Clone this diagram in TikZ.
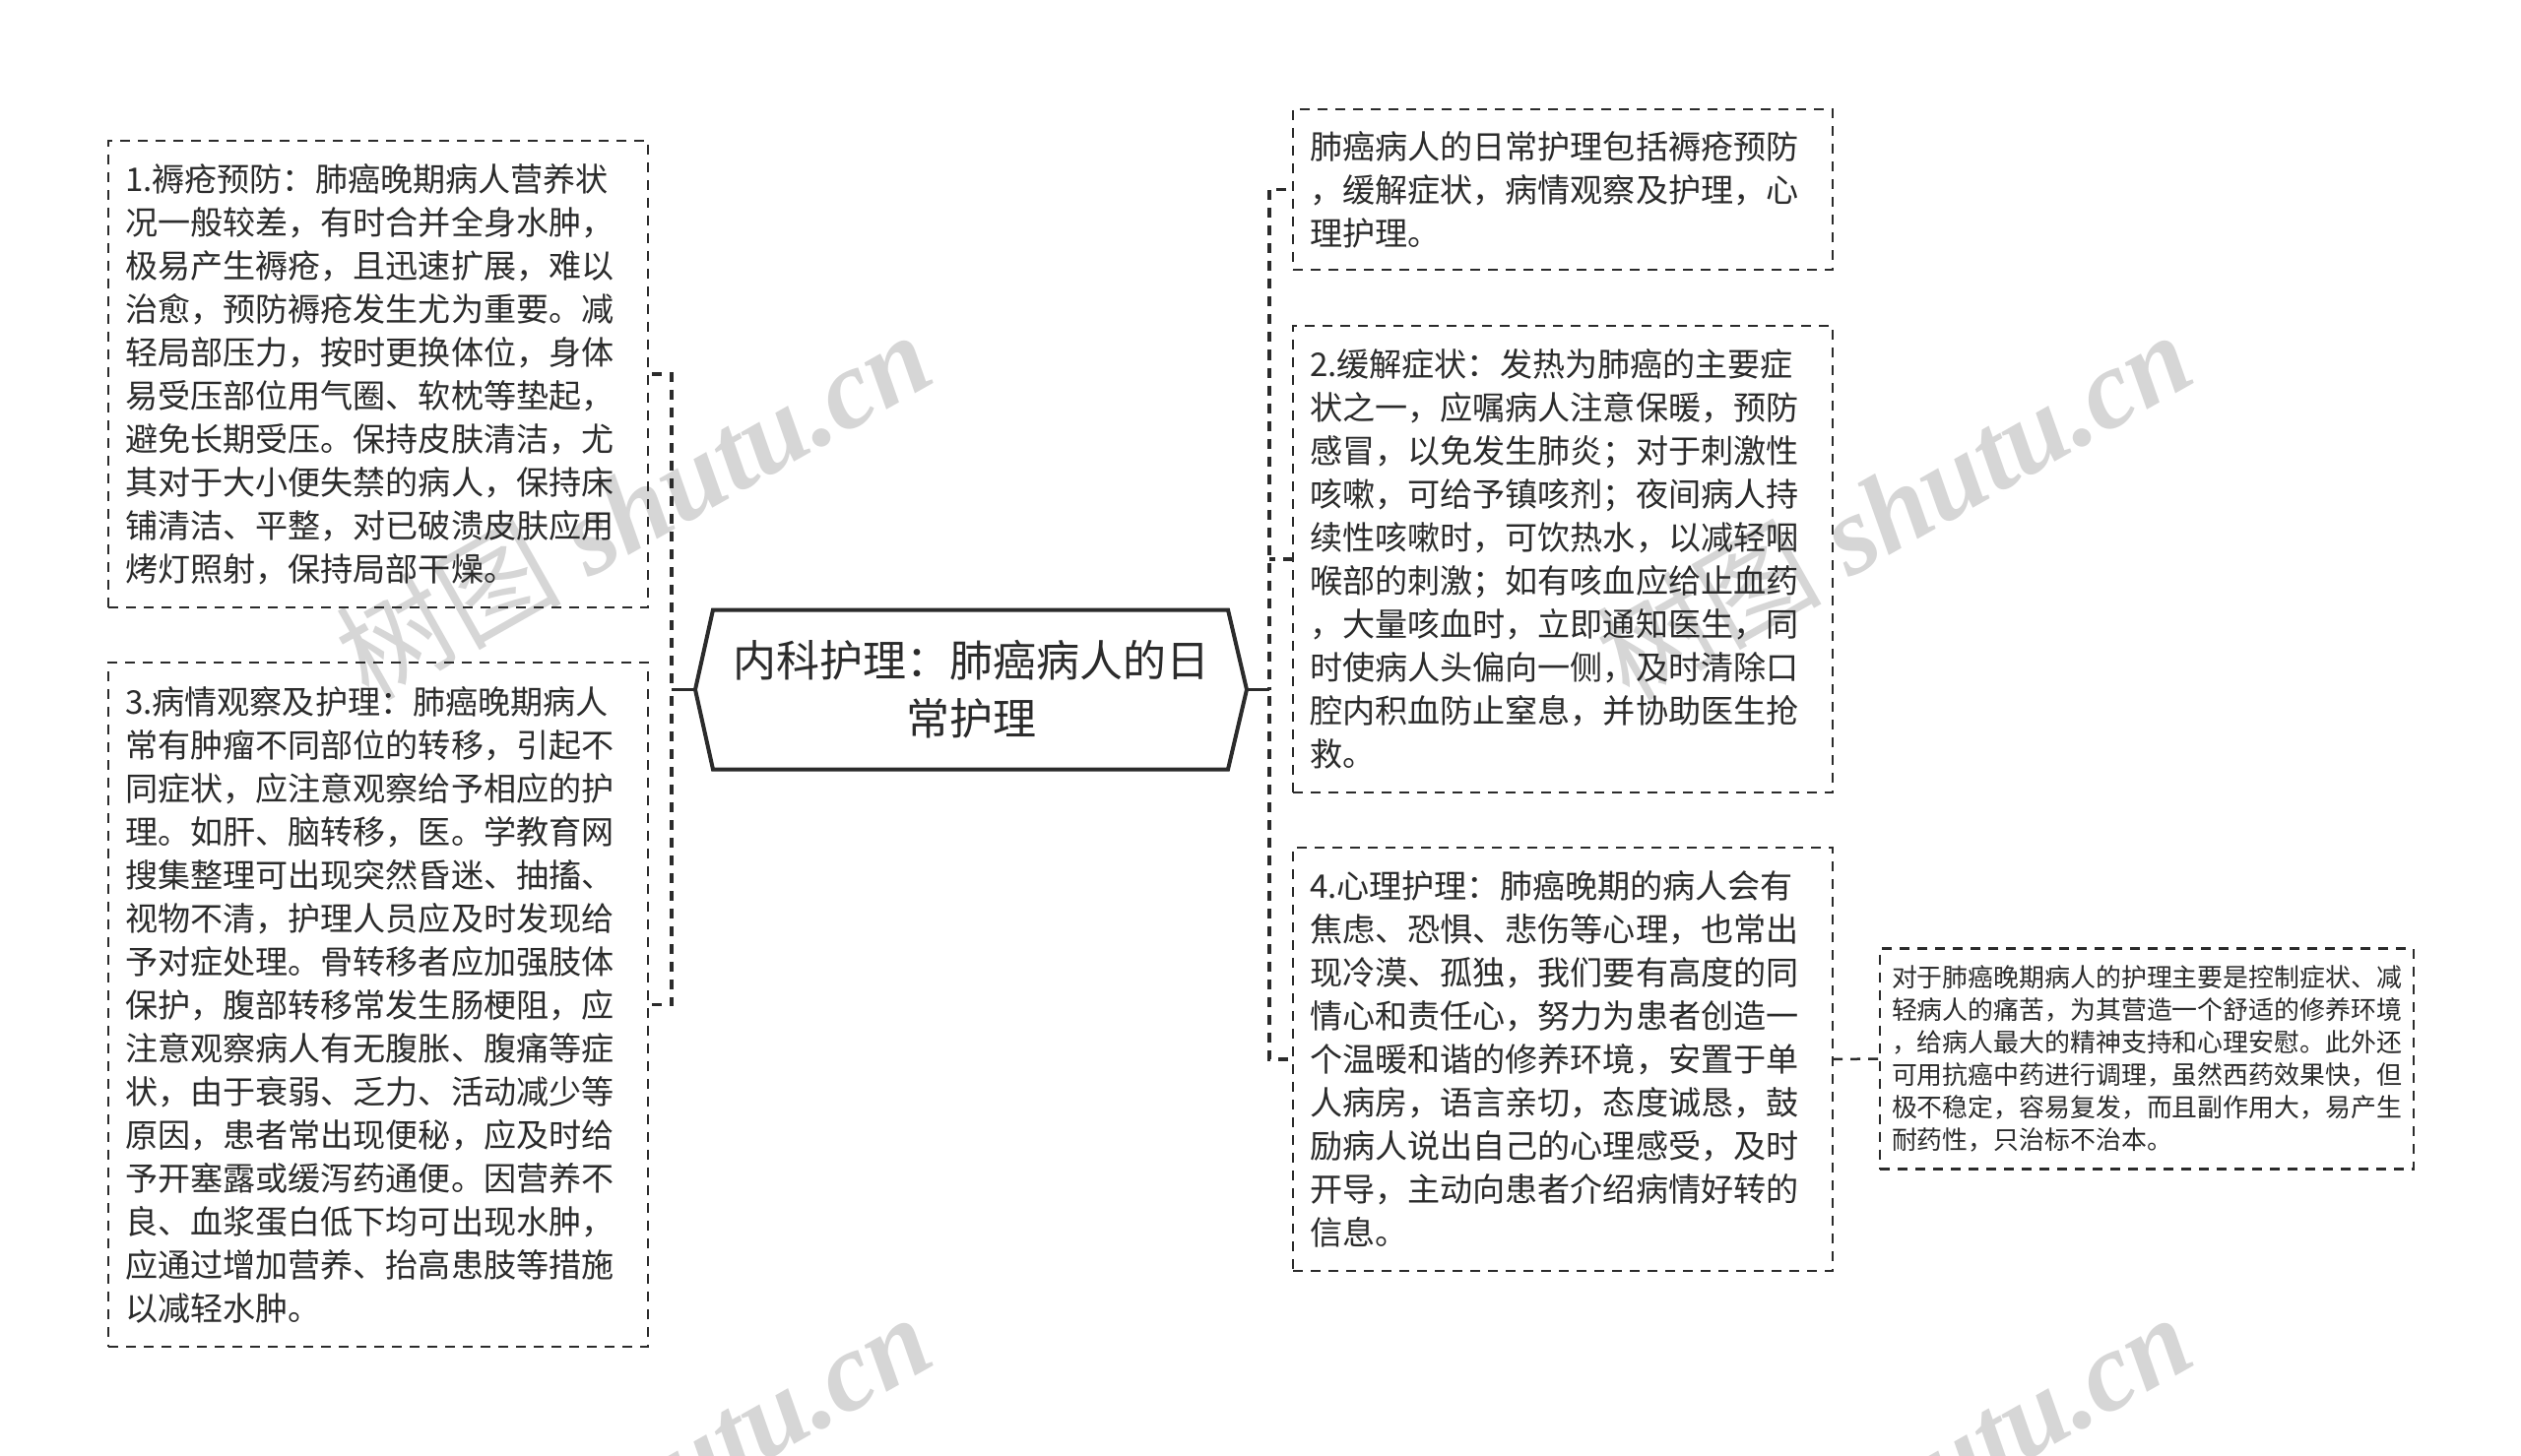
\documentclass[tikz,border=0pt]{standalone}
\usepackage{fontspec}
\setmainfont{Noto Sans CJK SC}
\newfontfamily\wmlatin{Liberation Serif}
\newfontfamily\wmcjk{Noto Sans CJK SC}
\usetikzlibrary{calc}
\definecolor{ink}{HTML}{2B2B2B}
\definecolor{wmgray}{HTML}{D6D6D6}
\tikzset{
  dashbox/.style={draw=ink,line width=2pt,dash pattern=on 10pt off 8pt,fill=none,align=left,inner sep=0pt,outer sep=0pt,text=ink,font=\fontsize{33.1pt}{44pt}\selectfont,text width=514pt},
  smallbox/.style={dashbox,line width=2.5pt,font=\fontsize{25.9pt}{33pt}\selectfont,text width=518pt},
  rootbox/.style={inner sep=0pt,outer sep=0pt,align=center,text=ink,minimum width=560pt,minimum height=162pt,text width=500pt,font=\fontsize{44pt}{59pt}\selectfont},
  hexline/.style={draw=ink,line width=4pt,line join=miter},
  conn/.style={draw=ink,line width=3.5pt,dash pattern=on 10pt off 8pt},
  stub/.style={draw=ink,line width=3.5pt},
  thinconn/.style={draw=ink,line width=2.5pt,dash pattern=on 10pt off 8pt},
  wmark/.style={text=wmgray,rotate=29.5,inner sep=0pt,font=\fontsize{114pt}{114pt}\selectfont}
}
\begin{document}
\begin{tikzpicture}[x=1pt,y=-1pt]
\clip (0,0) rectangle (2560,1479);
\fill[white] (0,0) rectangle (2560,1479);
% watermarks
\node[wmark] (wa) at (643,512) {\wmcjk 树图\hspace{0.25em}\wmlatin\bfseries\itshape shutu.cn};
\node[wmark] (wb) at (1923,512) {\wmcjk 树图\hspace{0.25em}\wmlatin\bfseries\itshape shutu.cn};
\node[wmark] (wc) at (643,1510) {\wmcjk 树图\hspace{0.25em}\wmlatin\bfseries\itshape shutu.cn};
\node[wmark] (wd) at (1923,1510) {\wmcjk 树图\hspace{0.25em}\wmlatin\bfseries\itshape shutu.cn};
% root
\node[rootbox] (root) at (986,700.5) {内科护理：肺癌病人的日\\常护理};
\draw[hexline] (root.west) -- ($(root.north west)+(18,0)$) -- ($(root.north east)+(-19,0)$) -- (root.east) -- ($(root.south east)+(-19,0)$) -- ($(root.south west)+(18,0)$) -- cycle;
% left boxes
\node[dashbox,minimum width=548pt,minimum height=474pt] (l1) at (384,380) {1.褥疮预防：肺癌晚期病人营养状\\况一般较差，有时合并全身水肿，\\极易产生褥疮，且迅速扩展，难以\\治愈，预防褥疮发生尤为重要。减\\轻局部压力，按时更换体位，身体\\易受压部位用气圈、软枕等垫起，\\避免长期受压。保持皮肤清洁，尤\\其对于大小便失禁的病人，保持床\\铺清洁、平整，对已破溃皮肤应用\\烤灯照射，保持局部干燥。};
\node[dashbox,minimum width=548pt,minimum height=695pt] (l2) at (384,1020.5) {3.病情观察及护理：肺癌晚期病人\\常有肿瘤不同部位的转移，引起不\\同症状，应注意观察给予相应的护\\理。如肝、脑转移，医。学教育网\\搜集整理可出现突然昏迷、抽搐、\\视物不清，护理人员应及时发现给\\予对症处理。骨转移者应加强肢体\\保护，腹部转移常发生肠梗阻，应\\注意观察病人有无腹胀、腹痛等症\\状，由于衰弱、乏力、活动减少等\\原因，患者常出现便秘，应及时给\\予开塞露或缓泻药通便。因营养不\\良、血浆蛋白低下均可出现水肿，\\应通过增加营养、抬高患肢等措施\\以减轻水肿。};
% right boxes
\node[dashbox,minimum width=548pt,minimum height=163pt] (r1) at (1587,192.5) {肺癌病人的日常护理包括褥疮预防\\，缓解症状，病情观察及护理，心\\理护理。};
\node[dashbox,minimum width=548pt,minimum height=474pt] (r2) at (1587,568) {2.缓解症状：发热为肺癌的主要症\\状之一，应嘱病人注意保暖，预防\\感冒，以免发生肺炎；对于刺激性\\咳嗽，可给予镇咳剂；夜间病人持\\续性咳嗽时，可饮热水，以减轻咽\\喉部的刺激；如有咳血应给止血药\\，大量咳血时，立即通知医生，同\\时使病人头偏向一侧，及时清除口\\腔内积血防止窒息，并协助医生抢\\救。};
\node[dashbox,minimum width=548pt,minimum height=430pt] (r3) at (1587,1076) {4.心理护理：肺癌晚期的病人会有\\焦虑、恐惧、悲伤等心理，也常出\\现冷漠、孤独，我们要有高度的同\\情心和责任心，努力为患者创造一\\个温暖和谐的修养环境，安置于单\\人病房，语言亲切，态度诚恳，鼓\\励病人说出自己的心理感受，及时\\开导，主动向患者介绍病情好转的\\信息。};
\node[smallbox,minimum width=542pt,minimum height=224pt] (s1) at (2180,1075.5) {对于肺癌晚期病人的护理主要是控制症状、减\\轻病人的痛苦，为其营造一个舒适的修养环境\\，给病人最大的精神支持和心理安慰。此外还\\可用抗癌中药进行调理，虽然西药效果快，但\\极不稳定，容易复发，而且副作用大，易产生\\耐药性，只治标不治本。};
% connectors
\coordinate (busL) at (682,700.5);
\coordinate (busR) at (1289,700.5);
\draw[stub] (root.west) -- (busL);
\draw[stub] (root.east) -- (busR);
\draw[conn,dash phase=14pt] (l1.east) -| (busL);
\draw[conn,dash phase=14pt] (l2.east) -| (busL);
\draw[conn,dash phase=11pt] (r1.west) -| (busR);
\draw[conn] (r2.west) -- (r2.west -| busR);
\draw[conn,dash phase=13pt] (r3.west) -| (busR);
\draw[thinconn] (r3.east) -- (s1.west);
\end{tikzpicture}
\end{document}
